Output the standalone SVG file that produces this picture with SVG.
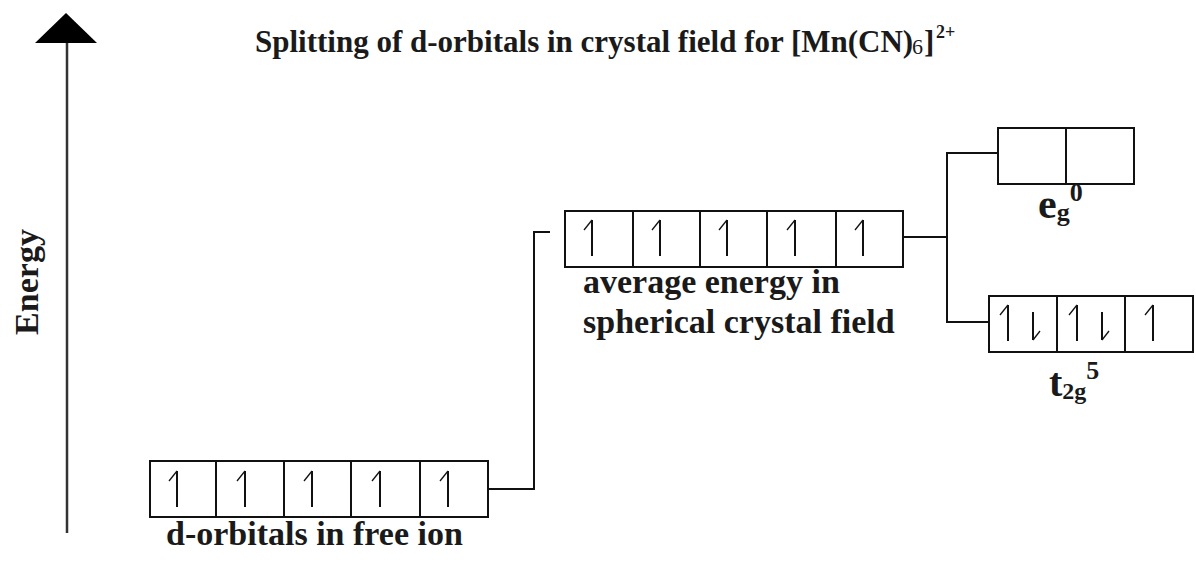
<svg xmlns="http://www.w3.org/2000/svg" width="1196" height="575" viewBox="0 0 1196 575">
<defs>
<style>
.box{fill:#fff;stroke:#111;stroke-width:2}
.ln{fill:none;stroke:#111;stroke-width:2}
.sp{fill:none;stroke:#111;stroke-width:2;stroke-linecap:butt}
.tk{fill:none;stroke:#111;stroke-width:1.3}
.t{font-family:"Liberation Serif","Times New Roman",serif;font-weight:bold;fill:#1a1a1a}
</style>
<g id="up">
<path class="sp" d="M0,-18 V18"/>
<path class="tk" d="M0,-18 L-8,-8"/>
</g>
<g id="dn">
<path class="sp" d="M0,-14 V14"/>
<path class="tk" d="M0,14 L7,5"/>
</g>
</defs>
<rect width="1196" height="575" fill="#fff"/>

<g id="energy-axis">
<line stroke="#333" stroke-width="2.5" x1="67" y1="533" x2="67" y2="40"/>
<polygon points="66,13 35,43 97,43" fill="#000"/>
<text class="t" font-size="34" transform="translate(38,282) rotate(-90)" text-anchor="middle">Energy</text>
</g>

<g id="title">
<text class="t" x="255" y="52" font-size="31">Splitting of d-orbitals in crystal field for [Mn(CN)</text>
<text class="t" x="912" y="54" font-size="22" style="font-weight:normal">6</text>
<text class="t" x="924" y="52" font-size="31">]</text>
<text class="t" x="936" y="38" font-size="18">2+</text>
</g>

<g id="free-ion">
<rect class="box" x="150" y="461" width="338" height="56"/>
<path class="ln" d="M216,461V517M284,461V517M351,461V517M420,461V517"/>
<use href="#up" x="177" y="489"/>
<use href="#up" x="245" y="489"/>
<use href="#up" x="312" y="489"/>
<use href="#up" x="380" y="489"/>
<use href="#up" x="448" y="489"/>
<text class="t" x="166" y="545" font-size="34">d-orbitals in free ion</text>
</g>

<g id="spherical">
<rect class="box" x="565" y="211" width="338" height="56"/>
<path class="ln" d="M633,211V267M700,211V267M767,211V267M836,211V267"/>
<use href="#up" x="592" y="238"/>
<use href="#up" x="660" y="238"/>
<use href="#up" x="727" y="238"/>
<use href="#up" x="795" y="238"/>
<use href="#up" x="863" y="238"/>
<text class="t" x="583" y="293" font-size="34">average energy in</text>
<text class="t" x="583" y="333" font-size="34">spherical crystal field</text>
</g>

<g id="eg">
<rect class="box" x="998" y="128" width="136" height="56"/>
<path class="ln" d="M1066,128V184"/>
<text class="t" x="1038" y="218" font-size="42">e<tspan font-size="26" dy="3">g</tspan><tspan font-size="26" dy="-20">0</tspan></text>
</g>

<g id="t2g">
<rect class="box" x="989" y="296" width="204" height="56"/>
<path class="ln" d="M1057,296V352M1125,296V352"/>
<use href="#up" x="1008" y="323"/>
<use href="#dn" x="1033" y="326"/>
<use href="#up" x="1077" y="323"/>
<use href="#dn" x="1102" y="326"/>
<use href="#up" x="1153" y="323"/>
<text class="t" x="1049" y="396" font-size="40">t<tspan font-size="24" dy="3">2g</tspan><tspan font-size="26" dy="-20">5</tspan></text>
</g>

<g id="connectors">
<path class="ln" d="M488,489H534V232H550"/>
<path class="ln" d="M903,237H947"/>
<path class="ln" d="M998,153H947V322H989"/>
</g>
</svg>
